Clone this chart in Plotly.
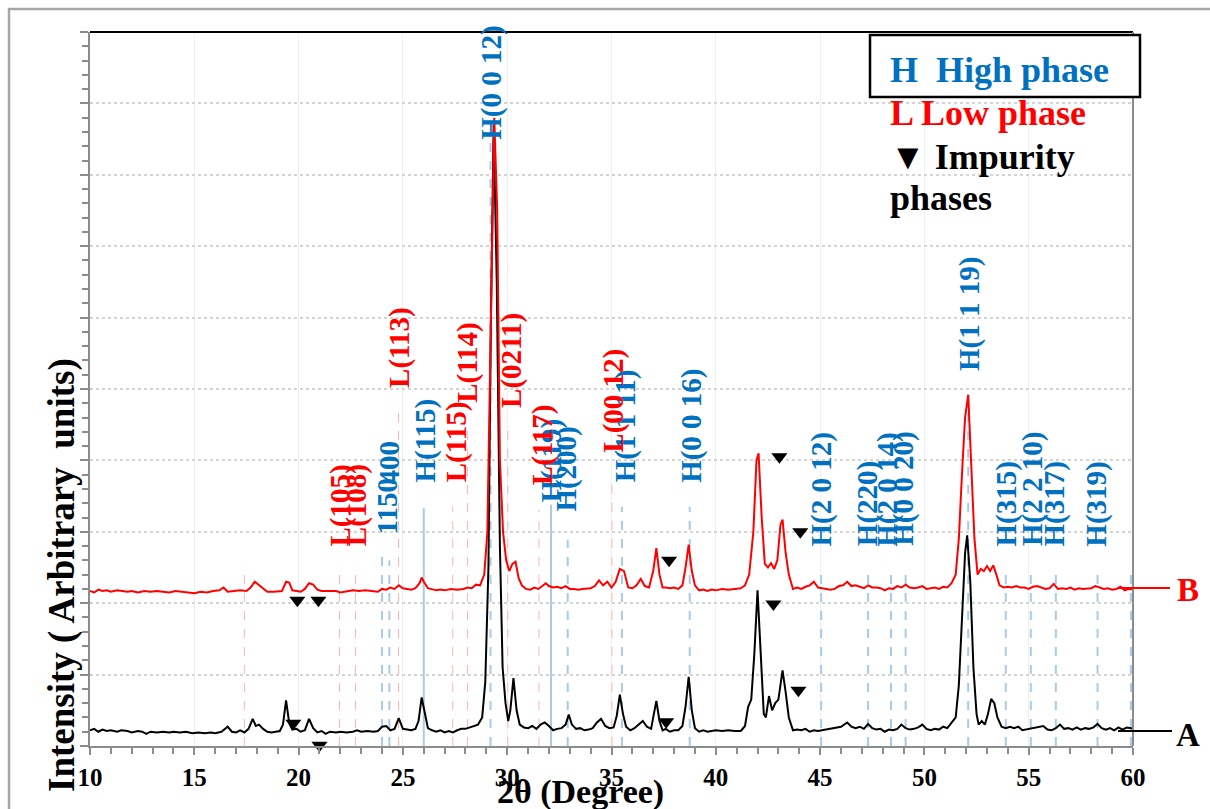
import plotly.graph_objects as go

# ---------------- data ----------------
# pattern A (black), (2theta, intensity in axis units)
pattern_A = [
    (10.0, 0.22), (10.2, 0.24), (10.4, 0.20), (10.6, 0.23), (10.8, 0.21), (11.0, 0.22), (11.3, 0.20),
    (11.5, 0.22), (11.8, 0.21), (12.0, 0.19), (12.3, 0.21), (12.5, 0.20), (12.7, 0.17), (12.9, 0.20),
    (13.2, 0.19), (13.5, 0.20), (13.8, 0.19), (14.0, 0.20), (14.3, 0.19), (14.6, 0.20), (14.9, 0.18),
    (15.2, 0.19), (15.5, 0.18), (15.8, 0.19), (16.0, 0.18), (16.3, 0.20), (16.6, 0.27), (16.8, 0.20),
    (17.0, 0.19), (17.2, 0.22), (17.4, 0.19), (17.6, 0.24), (17.8, 0.38), (17.95, 0.28), (18.1, 0.30),
    (18.3, 0.24), (18.5, 0.20), (18.7, 0.19), (18.9, 0.20), (19.1, 0.21), (19.25, 0.30), (19.4, 0.64),
    (19.55, 0.32), (19.7, 0.23), (19.9, 0.24), (20.1, 0.20), (20.3, 0.22), (20.5, 0.38), (20.7, 0.25),
    (20.9, 0.19), (21.1, 0.21), (21.3, 0.17), (21.5, 0.20), (21.8, 0.19), (22.0, 0.20), (22.3, 0.19),
    (22.6, 0.20), (22.8, 0.22), (23.0, 0.20), (23.3, 0.21), (23.6, 0.20), (23.8, 0.21), (24.0, 0.27),
    (24.2, 0.28), (24.4, 0.22), (24.6, 0.24), (24.8, 0.39), (25.0, 0.24), (25.2, 0.23), (25.4, 0.22),
    (25.6, 0.24), (25.75, 0.35), (25.9, 0.68), (26.05, 0.45), (26.2, 0.25), (26.4, 0.22), (26.6, 0.20),
    (26.8, 0.22), (27.0, 0.19), (27.2, 0.21), (27.4, 0.19), (27.6, 0.22), (27.8, 0.24), (28.0, 0.24),
    (28.2, 0.26), (28.4, 0.28), (28.6, 0.30), (28.8, 0.40), (28.95, 0.90), (29.1, 2.5), (29.22, 6.0),
    (29.35, 8.7), (29.5, 6.5), (29.65, 2.8), (29.78, 1.1), (29.92, 0.6), (30.05, 0.35), (30.15, 0.50),
    (30.3, 0.95), (30.45, 0.50), (30.6, 0.30), (30.8, 0.26), (31.0, 0.25), (31.2, 0.28), (31.4, 0.24),
    (31.6, 0.30), (31.8, 0.33), (32.0, 0.28), (32.2, 0.22), (32.4, 0.24), (32.6, 0.25), (32.8, 0.30),
    (32.95, 0.44), (33.1, 0.30), (33.3, 0.24), (33.5, 0.25), (33.7, 0.22), (33.9, 0.23), (34.1, 0.25),
    (34.3, 0.33), (34.5, 0.38), (34.7, 0.28), (34.9, 0.25), (35.1, 0.26), (35.25, 0.42), (35.4, 0.72),
    (35.55, 0.45), (35.7, 0.27), (35.9, 0.22), (36.1, 0.25), (36.3, 0.30), (36.5, 0.35), (36.7, 0.27),
    (36.9, 0.24), (37.0, 0.40), (37.15, 0.63), (37.3, 0.35), (37.45, 0.22), (37.6, 0.24), (37.8, 0.20),
    (38.0, 0.22), (38.2, 0.22), (38.4, 0.28), (38.55, 0.55), (38.7, 0.97), (38.85, 0.50), (39.0, 0.25),
    (39.2, 0.20), (39.4, 0.22), (39.6, 0.20), (39.8, 0.21), (40.0, 0.22), (40.3, 0.21), (40.6, 0.22),
    (40.9, 0.21), (41.2, 0.21), (41.4, 0.28), (41.55, 0.55), (41.7, 0.65), (41.85, 1.3), (42.0, 2.18),
    (42.15, 1.3), (42.3, 0.45), (42.4, 0.40), (42.55, 0.70), (42.7, 0.50), (42.85, 0.60), (43.0, 0.65),
    (43.2, 1.06), (43.35, 0.75), (43.5, 0.40), (43.7, 0.22), (43.9, 0.23), (44.1, 0.22), (44.3, 0.24),
    (44.5, 0.20), (44.7, 0.22), (44.9, 0.21), (45.1, 0.22), (45.4, 0.23), (45.7, 0.25), (46.0, 0.27),
    (46.3, 0.33), (46.5, 0.27), (46.7, 0.25), (46.9, 0.27), (47.1, 0.24), (47.3, 0.31), (47.5, 0.25),
    (47.7, 0.23), (47.9, 0.24), (48.1, 0.20), (48.3, 0.23), (48.5, 0.22), (48.7, 0.24), (48.9, 0.30),
    (49.1, 0.25), (49.3, 0.23), (49.5, 0.24), (49.7, 0.26), (49.9, 0.30), (50.1, 0.24), (50.3, 0.22),
    (50.5, 0.24), (50.7, 0.23), (50.9, 0.27), (51.1, 0.25), (51.3, 0.32), (51.5, 0.40), (51.65, 0.85),
    (51.8, 1.8), (51.95, 2.7), (52.05, 2.95), (52.2, 2.3), (52.35, 1.1), (52.5, 0.45), (52.6, 0.30),
    (52.75, 0.35), (52.9, 0.30), (53.05, 0.45), (53.2, 0.66), (53.35, 0.60), (53.5, 0.40), (53.7, 0.27),
    (53.9, 0.25), (54.1, 0.27), (54.3, 0.25), (54.5, 0.27), (54.7, 0.22), (54.9, 0.23), (55.1, 0.24),
    (55.3, 0.25), (55.5, 0.27), (55.7, 0.28), (55.9, 0.23), (56.1, 0.22), (56.3, 0.25), (56.5, 0.30),
    (56.7, 0.24), (56.9, 0.25), (57.1, 0.23), (57.3, 0.26), (57.5, 0.23), (57.7, 0.25), (57.9, 0.24),
    (58.1, 0.26), (58.3, 0.31), (58.5, 0.25), (58.7, 0.23), (58.9, 0.25), (59.1, 0.22), (59.3, 0.26),
    (59.5, 0.23), (59.7, 0.26), (59.9, 0.25), (60.0, 0.24),
]

# pattern B (red)
pattern_B = [
    (10.0, 2.17), (10.2, 2.15), (10.4, 2.19), (10.6, 2.17), (10.8, 2.18), (11.0, 2.16), (11.3, 2.18),
    (11.5, 2.17), (11.8, 2.16), (12.0, 2.17), (12.3, 2.15), (12.6, 2.17), (12.9, 2.16), (13.2, 2.17),
    (13.5, 2.16), (13.8, 2.15), (14.1, 2.17), (14.4, 2.16), (14.7, 2.15), (15.0, 2.14), (15.3, 2.16),
    (15.6, 2.15), (15.9, 2.17), (16.2, 2.18), (16.4, 2.22), (16.6, 2.16), (16.9, 2.17), (17.2, 2.18),
    (17.5, 2.17), (17.7, 2.22), (17.9, 2.30), (18.1, 2.25), (18.3, 2.20), (18.5, 2.16), (18.8, 2.16),
    (19.0, 2.17), (19.2, 2.17), (19.4, 2.30), (19.55, 2.29), (19.7, 2.18), (19.9, 2.17), (20.1, 2.16),
    (20.3, 2.20), (20.5, 2.28), (20.7, 2.26), (20.9, 2.19), (21.1, 2.17), (21.3, 2.17), (21.5, 2.16),
    (21.8, 2.17), (22.0, 2.15), (22.3, 2.17), (22.6, 2.18), (22.9, 2.17), (23.2, 2.18), (23.5, 2.17),
    (23.8, 2.16), (24.0, 2.20), (24.2, 2.19), (24.4, 2.22), (24.6, 2.20), (24.8, 2.25), (25.0, 2.21),
    (25.2, 2.20), (25.4, 2.19), (25.6, 2.21), (25.8, 2.28), (25.9, 2.36), (26.0, 2.30), (26.2, 2.21),
    (26.4, 2.20), (26.6, 2.18), (26.8, 2.19), (27.0, 2.18), (27.3, 2.20), (27.6, 2.19), (27.9, 2.20),
    (28.1, 2.22), (28.3, 2.21), (28.5, 2.26), (28.7, 2.25), (28.9, 2.40), (29.05, 3.0), (29.2, 5.5),
    (29.38, 8.8), (29.52, 7.5), (29.65, 4.0), (29.8, 3.0), (29.95, 2.6), (30.1, 2.45), (30.25, 2.55),
    (30.4, 2.58), (30.55, 2.35), (30.7, 2.25), (30.9, 2.20), (31.1, 2.19), (31.3, 2.22), (31.5, 2.20),
    (31.7, 2.24), (31.85, 2.28), (32.0, 2.24), (32.2, 2.22), (32.4, 2.23), (32.6, 2.21), (32.8, 2.24),
    (33.0, 2.20), (33.2, 2.20), (33.4, 2.19), (33.6, 2.20), (33.8, 2.20), (34.0, 2.21), (34.2, 2.24),
    (34.4, 2.32), (34.6, 2.25), (34.8, 2.30), (35.0, 2.22), (35.2, 2.30), (35.4, 2.48), (35.6, 2.45),
    (35.8, 2.22), (36.0, 2.21), (36.2, 2.25), (36.4, 2.34), (36.6, 2.24), (36.8, 2.22), (37.0, 2.45),
    (37.15, 2.77), (37.3, 2.40), (37.45, 2.22), (37.6, 2.22), (37.8, 2.21), (38.0, 2.22), (38.2, 2.20),
    (38.4, 2.25), (38.55, 2.50), (38.7, 2.82), (38.85, 2.45), (39.0, 2.25), (39.2, 2.18), (39.4, 2.19),
    (39.6, 2.17), (39.8, 2.19), (40.0, 2.18), (40.3, 2.20), (40.6, 2.19), (40.9, 2.20), (41.2, 2.21),
    (41.4, 2.25), (41.6, 2.40), (41.8, 3.0), (41.95, 4.0), (42.05, 4.1), (42.2, 3.2), (42.35, 2.55),
    (42.5, 2.50), (42.65, 2.56), (42.8, 2.48), (42.95, 2.60), (43.1, 3.10), (43.2, 3.17), (43.35, 2.70),
    (43.5, 2.40), (43.7, 2.20), (43.9, 2.22), (44.1, 2.20), (44.3, 2.23), (44.5, 2.25), (44.7, 2.30),
    (44.9, 2.22), (45.1, 2.21), (45.3, 2.20), (45.5, 2.19), (45.7, 2.20), (45.9, 2.24), (46.1, 2.25),
    (46.3, 2.30), (46.5, 2.24), (46.7, 2.25), (46.9, 2.23), (47.1, 2.21), (47.3, 2.25), (47.5, 2.22),
    (47.7, 2.22), (47.9, 2.21), (48.1, 2.18), (48.3, 2.21), (48.5, 2.20), (48.7, 2.24), (48.9, 2.22),
    (49.1, 2.26), (49.3, 2.22), (49.5, 2.21), (49.7, 2.22), (49.9, 2.24), (50.1, 2.20), (50.3, 2.21),
    (50.5, 2.22), (50.7, 2.20), (50.9, 2.23), (51.1, 2.22), (51.3, 2.28), (51.5, 2.40), (51.65, 2.9),
    (51.8, 3.8), (51.95, 4.6), (52.1, 4.92), (52.25, 4.0), (52.4, 2.9), (52.55, 2.40), (52.7, 2.48),
    (52.85, 2.45), (53.0, 2.52), (53.15, 2.45), (53.3, 2.53), (53.45, 2.40), (53.6, 2.25), (53.8, 2.22),
    (54.0, 2.23), (54.2, 2.22), (54.4, 2.24), (54.6, 2.22), (54.8, 2.22), (55.0, 2.20), (55.2, 2.23),
    (55.4, 2.24), (55.6, 2.22), (55.8, 2.20), (56.0, 2.21), (56.2, 2.27), (56.4, 2.20), (56.6, 2.21),
    (56.8, 2.20), (57.0, 2.22), (57.2, 2.19), (57.4, 2.21), (57.6, 2.20), (57.8, 2.20), (58.0, 2.21),
    (58.2, 2.24), (58.4, 2.22), (58.6, 2.20), (58.8, 2.21), (59.0, 2.19), (59.2, 2.20), (59.4, 2.23),
    (59.6, 2.18), (59.8, 2.20), (60.0, 2.19),
]

# reference lines (position, top)
H_line_pos = [24.0, 24.35, 26.0, 29.2, 32.1, 32.9, 35.5, 38.75, 45.05, 47.3, 48.4, 49.1,
              52.1, 53.9, 55.1, 56.3, 58.3, 59.9]
H_line_top = [2.70, 2.60, 3.33, 8.46, 3.38, 2.89, 3.35, 3.35, 2.45, 2.45, 2.45, 2.45,
              4.92, 2.45, 2.45, 2.45, 2.45, 2.45]
L_line_pos = [17.4, 21.96, 22.73, 24.79, 27.39, 28.1, 30.03, 31.52, 35.02]
L_line_top = [2.44, 2.44, 2.44, 4.66, 3.35, 4.45, 4.47, 3.31, 3.68]

# peak labels
H_label_text = ["1150", "400", "H(115)", "H(0 0 12)", "H(119)", "H(200)", "H(1 1 11)", "H(0 0 16)",
                "H(2 0 12)", "H(220)", "H(2 0 14)", "H(0 0 20)", "H(1 1 19)", "H(315)",
                "H(2 2 10)", "H(317)", "H(319)"]
H_label_x = [24.22, 24.32, 26.1, 29.26, 32.14, 32.86, 35.65, 38.82, 45.06, 47.27, 48.23, 49.0,
             52.17, 53.95, 55.15, 56.25, 58.27]
H_label_y = [2.93, 3.63, 3.66, 8.46, 3.38, 3.26, 3.66, 3.66, 2.77, 2.77, 2.77, 2.77,
             5.22, 2.77, 2.77, 2.77, 2.77]
L_label_text = ["L(105)", "L(108)", "L(113)", "L(115)", "L(114)", "L(0211)", "L(117)", "L(00 12)"]
L_label_x = [22.0, 22.75, 24.8, 27.55, 28.1, 30.17, 31.66, 35.12]
L_label_y = [2.77, 2.77, 4.99, 3.66, 4.78, 4.71, 3.63, 4.08]

# impurity markers
impurity_x = [19.94, 20.95, 19.75, 21.0, 37.76, 37.62, 43.05, 44.05, 42.76, 43.96]
impurity_y = [2.04, 2.04, 0.32, 0.01, 2.60, 0.34, 4.05, 3.00, 1.99, 0.78]

x_ticks = [10, 15, 20, 25, 30, 35, 40, 45, 50, 55, 60]

# ---------------- styles ----------------
FONT = "Liberation Serif"
BLUE = "#0070C0"
RED = "#FF0000"
AXIS_GRAY = "#8c8c8c"
solid_H = {26.0, 32.1}

fig = go.Figure()


def segments(pos, top):
    xs, ys = [], []
    for p, t in zip(pos, top):
        xs += [p, p, None]
        ys += [0, t, None]
    return xs, ys


hd_pos = [p for p in H_line_pos if p not in solid_H]
hd_top = [t for p, t in zip(H_line_pos, H_line_top) if p not in solid_H]
hs_pos = [p for p in H_line_pos if p in solid_H]
hs_top = [t for p, t in zip(H_line_pos, H_line_top) if p in solid_H]

x, y = segments(L_line_pos, L_line_top)
fig.add_trace(go.Scatter(x=x, y=y, mode="lines", line=dict(color="#ffb3b3", width=1, dash="dash"),
                         hoverinfo="skip"))
x, y = segments(hd_pos, hd_top)
fig.add_trace(go.Scatter(x=x, y=y, mode="lines", line=dict(color="#a8cbea", width=2, dash="dash"),
                         hoverinfo="skip"))
x, y = segments(hs_pos, hs_top)
fig.add_trace(go.Scatter(x=x, y=y, mode="lines", line=dict(color="#a8cbea", width=2),
                         hoverinfo="skip"))

fig.add_trace(go.Scatter(x=[p[0] for p in pattern_A], y=[p[1] for p in pattern_A], mode="lines",
                         line=dict(color="black", width=2), name="A"))
fig.add_trace(go.Scatter(x=[p[0] for p in pattern_B], y=[p[1] for p in pattern_B], mode="lines",
                         line=dict(color=RED, width=2), name="B"))
fig.add_trace(go.Scatter(x=impurity_x, y=impurity_y, mode="markers", cliponaxis=False,
                         marker=dict(symbol="triangle-down", size=14, color="black"),
                         name="Impurity"))

annotations = []
for t, xx, yy in zip(H_label_text, H_label_x, H_label_y):
    annotations.append(dict(x=xx, y=yy, xref="x", yref="y", text=f"<b>{t}</b>", showarrow=False,
                            textangle=-90, xanchor="center", yanchor="bottom",
                            font=dict(family=FONT, size=29, color=BLUE)))
for t, xx, yy in zip(L_label_text, L_label_x, L_label_y):
    annotations.append(dict(x=xx, y=yy, xref="x", yref="y", text=f"<b>{t}</b>", showarrow=False,
                            textangle=-90, xanchor="center", yanchor="bottom",
                            font=dict(family=FONT, size=29, color=RED)))

# plot area in px: x 90..1133, y 32..746
def px(xp):
    return (xp - 90) / 1043.0


def py(yp):
    return (746 - yp) / 714.0


legend_items = [("<b>H  High phase</b>", BLUE, 70), ("<b>L Low phase</b>", RED, 113),
                ("<b>▼ Impurity</b>", "black", 157), ("<b>phases</b>", "black", 198)]
for t, c, yp in legend_items:
    annotations.append(dict(x=px(888), y=py(yp), xref="paper", yref="paper", text=t, showarrow=False,
                            xanchor="left", yanchor="middle", font=dict(family=FONT, size=36, color=c)))

annotations.append(dict(x=px(580), y=py(792), xref="paper", yref="paper", text="<b>2θ (Degree)</b>",
                        showarrow=False, xanchor="center", yanchor="middle",
                        font=dict(family=FONT, size=34, color="black")))
annotations.append(dict(x=px(62), y=py(575), xref="paper", yref="paper",
                        text="<b>Intensity ( Arbitrary  units)</b>", showarrow=False, textangle=-90,
                        xanchor="center", yanchor="middle", font=dict(family=FONT, size=37, color="black")))
annotations.append(dict(x=px(1188), y=py(735), xref="paper", yref="paper", text="<b>A</b>",
                        showarrow=False, xanchor="center", yanchor="middle",
                        font=dict(family=FONT, size=33, color="black")))
annotations.append(dict(x=px(1188), y=py(590), xref="paper", yref="paper", text="<b>B</b>",
                        showarrow=False, xanchor="center", yanchor="middle",
                        font=dict(family=FONT, size=33, color=RED)))

shapes = [
    dict(type="rect", xref="paper", yref="paper", x0=px(9), x1=px(1260), y0=py(860), y1=py(9),
         line=dict(color="#a6a6a6", width=2.5), layer="below"),
    dict(type="line", xref="paper", yref="paper", x0=0, x1=1, y0=1, y1=1,
         line=dict(color="black", width=2)),
    dict(type="line", xref="paper", yref="paper", x0=1, x1=1, y0=0, y1=1,
         line=dict(color=AXIS_GRAY, width=2)),
    dict(type="rect", xref="paper", yref="paper", x0=px(870), x1=px(1140), y0=py(97), y1=py(35),
         line=dict(color="black", width=2.5), fillcolor="white"),
    dict(type="line", xref="paper", yref="paper", x0=px(1118), x1=px(1172), y0=py(731), y1=py(731),
         line=dict(color="black", width=2)),
    dict(type="line", xref="paper", yref="paper", x0=px(1118), x1=px(1170), y0=py(588), y1=py(588),
         line=dict(color=RED, width=2)),
]

fig.update_layout(
    width=1210, height=809,
    margin=dict(l=90, r=77, t=32, b=63),
    plot_bgcolor="white", paper_bgcolor="white",
    showlegend=False,
    annotations=annotations, shapes=shapes,
    xaxis=dict(range=[10, 60], tickvals=x_ticks, ticks="outside", ticklen=7, tickwidth=2,
               tickcolor=AXIS_GRAY, showline=True, linecolor=AXIS_GRAY, linewidth=2,
               showgrid=True, gridcolor="#efefef", gridwidth=1, zeroline=False,
               tickfont=dict(family=FONT, size=25, color="black", weight="bold"),
               ticklabelstandoff=1,
               minor=dict(dtick=1, tick0=10, ticks="outside", ticklen=6, tickwidth=2,
                          tickcolor=AXIS_GRAY, showgrid=False)),
    yaxis=dict(range=[0, 10], dtick=1, tick0=0, showticklabels=False, ticks="outside", ticklen=8,
               tickwidth=2, tickcolor=AXIS_GRAY, showline=True, linecolor=AXIS_GRAY, linewidth=2,
               showgrid=True, gridcolor="#d4d4d4", gridwidth=1.5, griddash="dot", zeroline=False,
               minor=dict(dtick=0.2, ticks="outside", ticklen=6, tickwidth=2, tickcolor=AXIS_GRAY,
                          showgrid=False)),
)

fig.write_html("out.html", config={"displayModeBar": False},
               post_script="document.body.style.margin='0';document.body.style.overflow='hidden';")
